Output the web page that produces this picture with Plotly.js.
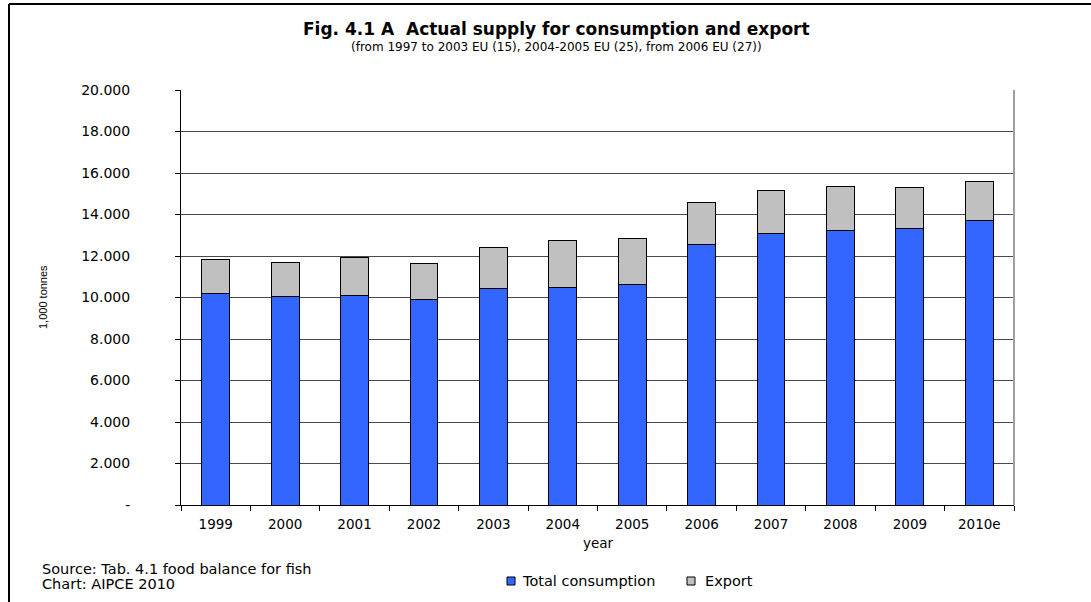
<!DOCTYPE html>
<html>
<head>
<meta charset="utf-8">
<script src="https://cdn.plot.ly/plotly-3.0.1.min.js"></script>
<style>
html,body{margin:0;padding:0;background:#fff;}
#chart{width:1091px;height:602px;}
</style>
</head>
<body>
<div id="chart"></div>
<script>
const years = ['1999','2000','2001','2002','2003','2004','2005','2006','2007','2008','2009','2010e'];
const totalConsumption = [10200, 10060, 10090, 9910, 10440, 10490, 10650, 12560, 13090, 13250, 13330, 13690];
const exportVals = [1640, 1640, 1860, 1740, 1990, 2265, 2215, 2040, 2075, 2090, 1960, 1910];
const yTickVals = [0, 2000, 4000, 6000, 8000, 10000, 12000, 14000, 16000, 18000, 20000];
const yTickText = ['-', '2.000', '4.000', '6.000', '8.000', '10.000', '12.000', '14.000', '16.000', '18.000', '20.000'];
const seriesNames = ['Total consumption', 'Export'];
const seriesColors = ['#3366FF', '#C0C0C0'];

const font = 'DejaVu Sans, Liberation Sans, Arial, sans-serif';
const W = 1091, H = 602, L = 181, R = 1014, T = 90, B = 505;
const px = x => (x - L) / (R - L);
const py = y => (B - y) / (B - T);

const traces = [
  {type:'bar', name:seriesNames[0], x:years, y:totalConsumption,
   marker:{color:seriesColors[0], line:{color:'#000', width:1}}, width:0.4},
  {type:'bar', name:seriesNames[1], x:years, y:exportVals,
   marker:{color:seriesColors[1], line:{color:'#000', width:1}}, width:0.4}
];

// custom legend (small squares close to text, as in the reference)
const legendSquares = [507, 687];
const legendTexts = [520, 703];
const legendY = 581;

const annotations = [
  {text:'<b>Fig. 4.1 A  Actual supply for consumption and export</b>', xref:'paper', yref:'paper',
   x:px(556), y:py(29), xanchor:'center', yanchor:'middle', showarrow:false,
   font:{family:font, size:17, color:'#000'}},
  {text:'(from 1997 to 2003 EU (15), 2004-2005 EU (25), from 2006 EU (27))', xref:'paper', yref:'paper',
   x:px(556), y:py(47), xanchor:'center', yanchor:'middle', showarrow:false,
   font:{family:font, size:12, color:'#000'}},
  {text:'1,000 tonnes', xref:'paper', yref:'paper', x:px(43), y:py(297), textangle:-90,
   xanchor:'center', yanchor:'middle', showarrow:false,
   font:{family:'Liberation Sans, Arial, sans-serif', size:11, color:'#000'}},
  {text:'year', xref:'paper', yref:'paper', x:px(598), y:py(543),
   xanchor:'center', yanchor:'middle', showarrow:false, font:{family:font, size:13.5, color:'#000'}},
  {text:'Source: Tab. 4.1 food balance for fish', xref:'paper', yref:'paper', x:px(40), y:py(569),
   xanchor:'left', yanchor:'middle', showarrow:false, font:{family:font, size:14.5, color:'#000'}},
  {text:'Chart: AIPCE 2010', xref:'paper', yref:'paper', x:px(40), y:py(584),
   xanchor:'left', yanchor:'middle', showarrow:false, font:{family:font, size:14.5, color:'#000'}}
];
const shapes = [
  {type:'line', xref:'paper', yref:'paper', x0:px(9), x1:px(1091), y0:py(4), y1:py(4), line:{color:'#000', width:2}},
  {type:'line', xref:'paper', yref:'paper', x0:px(9), x1:px(9), y0:py(4), y1:py(602), line:{color:'#000', width:2}},
  {type:'line', xref:'paper', yref:'paper', x0:1, x1:1, y0:0, y1:1, line:{color:'#a0a0a0', width:2}}
];
seriesNames.forEach((n, i) => {
  shapes.push({type:'rect', xref:'paper', yref:'paper',
    x0:px(legendSquares[i]), x1:px(legendSquares[i] + 8), y0:py(legendY - 4), y1:py(legendY + 4),
    fillcolor:seriesColors[i], line:{color:'#000', width:1}});
  annotations.push({text:n, xref:'paper', yref:'paper', x:px(legendTexts[i]), y:py(legendY),
    xanchor:'left', yanchor:'middle', showarrow:false, font:{family:font, size:14.5, color:'#000'}});
});

const layout = {
  width:W, height:H,
  margin:{l:L, r:W-R, t:T, b:H-B, pad:0, autoexpand:false},
  paper_bgcolor:'#fff', plot_bgcolor:'#fff',
  barmode:'stack',
  font:{family:font, size:13, color:'#000'},
  showlegend:false,
  xaxis:{type:'category', showgrid:false, showline:true, linecolor:'#000', linewidth:1,
    ticks:'outside', tickson:'boundaries', ticklen:5, tickcolor:'#000', ticklabelstandoff:7,
    tickfont:{family:font, size:13.5, color:'#000'}, fixedrange:true, automargin:false},
  yaxis:{range:[0,20000], tickvals:yTickVals, ticktext:yTickText, showgrid:true,
    gridcolor:'#4a4a4a', gridwidth:1, showline:true, linecolor:'#000', linewidth:1,
    ticks:'outside', ticklen:5, tickcolor:'#000', ticklabelstandoff:42,
    tickfont:{family:font, size:14, color:'#000'}, zeroline:false, fixedrange:true, automargin:false},
  annotations:annotations,
  shapes:shapes
};

Plotly.newPlot('chart', traces, layout, {staticPlot:true, displayModeBar:false});
</script>
</body>
</html>
